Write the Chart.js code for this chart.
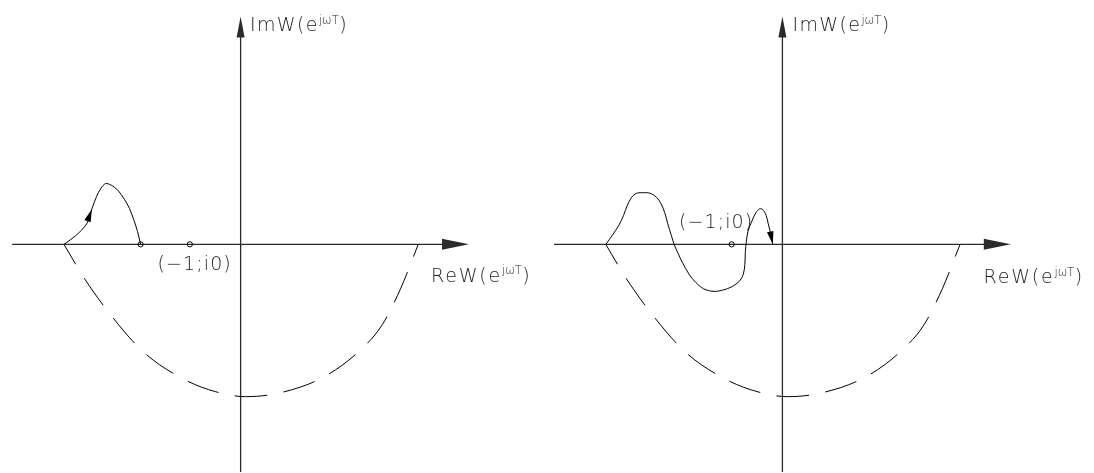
<!DOCTYPE html>
<html>
<head>
<meta charset="utf-8">
<script src="https://cdn.jsdelivr.net/npm/chart.js@4.4.1/dist/chart.umd.min.js"></script>
<style>
  html, body { margin: 0; padding: 0; background: #ffffff; }
  #wrap { display: flex; width: 1094px; height: 473px; overflow: hidden; }
  canvas { display: block; }
</style>
</head>
<body>
<div id="wrap">
  <canvas id="planeA" width="547" height="473"></canvas>
  <canvas id="planeB" width="547" height="473"></canvas>
</div>
<script>
// ---- data (complex-plane units, the critical point sits at Re = -1) ----
const reAxisRange = [-4.5, 4.5];
const imAxisRange = [-4.5, 4.5];
const criticalPoint = [{ x: -1, y: 0 }];

// dashed closing contour (frequencies mirrored into the lower half-plane)
const closingContour = [
  { x: -3.48, y: 0 }, { x: -3.08, y: -0.67 }, { x: -2.54, y: -1.42 }, { x: -1.90, y: -2.14 },
  { x: -1.11, y: -2.67 }, { x: -0.50, y: -2.91 }, { x: 0.10, y: -3.01 }, { x: 0.75, y: -2.94 },
  { x: 1.64, y: -2.62 }, { x: 2.38, y: -2.07 }, { x: 2.79, y: -1.59 }, { x: 3.15, y: -0.88 },
  { x: 3.50, y: 0 }
];

// frequency response, first system
const hodographA = [
  { x: -3.48, y: 0 }, { x: -3.25, y: 0.17 }, { x: -3.03, y: 0.41 }, { x: -2.93, y: 0.70 },
  { x: -2.84, y: 0.94 }, { x: -2.75, y: 1.11 }, { x: -2.66, y: 1.20 }, { x: -2.55, y: 1.17 },
  { x: -2.42, y: 1.07 }, { x: -2.29, y: 0.89 }, { x: -2.19, y: 0.71 }, { x: -2.10, y: 0.47 },
  { x: -2.03, y: 0.25 }, { x: -1.97, y: 0 }
];
const hodographAEnd = [{ x: -1.97, y: 0 }];

// frequency response, second system
const hodographB = [
  { x: -3.48, y: 0 }, { x: -3.35, y: 0.18 }, { x: -3.22, y: 0.38 }, { x: -3.13, y: 0.57 },
  { x: -3.06, y: 0.76 }, { x: -2.97, y: 0.93 }, { x: -2.87, y: 1.01 }, { x: -2.74, y: 1.02 },
  { x: -2.61, y: 1.01 }, { x: -2.48, y: 0.93 }, { x: -2.39, y: 0.80 }, { x: -2.32, y: 0.63 },
  { x: -2.26, y: 0.41 }, { x: -2.19, y: 0.18 }, { x: -2.13, y: -0.01 }, { x: -2.06, y: -0.17 },
  { x: -1.97, y: -0.36 }, { x: -1.84, y: -0.59 }, { x: -1.71, y: -0.75 }, { x: -1.55, y: -0.88 },
  { x: -1.35, y: -0.93 }, { x: -1.16, y: -0.90 }, { x: -1.00, y: -0.84 }, { x: -0.84, y: -0.72 },
  { x: -0.77, y: -0.59 }, { x: -0.74, y: -0.40 }, { x: -0.73, y: -0.14 }, { x: -0.71, y: 0.05 },
  { x: -0.68, y: 0.25 }, { x: -0.61, y: 0.44 }, { x: -0.52, y: 0.63 }, { x: -0.45, y: 0.70 },
  { x: -0.39, y: 0.69 }, { x: -0.32, y: 0.57 }, { x: -0.28, y: 0.41 }, { x: -0.24, y: 0.25 },
  { x: -0.19, y: 0 }
];

// ---- layout ----
const UNIT_PX = 51.7;          // pixels per unit on both axes
const PANE_W = 547, PANE_H = 473;
const ORIGIN_Y = 244.5;
const INK = '#000000';
const AXIS_INK = '#2a2a2a';
const TEXT_FONT = '"DejaVu Sans", "Liberation Sans", sans-serif';

function arrowHead(ctx, tip, from, len, half) {
  const dx = tip.x - from.x, dy = tip.y - from.y;
  const d = Math.hypot(dx, dy) || 1;
  const ux = dx / d, uy = dy / d;
  const bx = tip.x - ux * len, by = tip.y - uy * len;
  ctx.beginPath();
  ctx.moveTo(tip.x, tip.y);
  ctx.lineTo(bx - uy * half, by + ux * half);
  ctx.lineTo(bx + uy * half, by - ux * half);
  ctx.closePath();
  ctx.fill();
}

// Re / Im axes with arrowheads
const planeAxes = {
  id: 'planeAxes',
  beforeDatasetsDraw(chart) {
    const { ctx } = chart;
    const { x, y } = chart.scales;
    const x0 = x.getPixelForValue(0), y0 = y.getPixelForValue(0);
    const reTip = x.getPixelForValue(reAxisRange[1]);
    const imTip = y.getPixelForValue(imAxisRange[1]);
    ctx.save();
    ctx.strokeStyle = AXIS_INK;
    ctx.fillStyle = AXIS_INK;
    ctx.lineWidth = 1.3;
    ctx.beginPath();
    ctx.moveTo(x.getPixelForValue(reAxisRange[0]), y0);
    ctx.lineTo(reTip - 20, y0);
    ctx.moveTo(x0, imTip + 15);
    ctx.lineTo(x0, y.getPixelForValue(imAxisRange[0]));
    ctx.stroke();
    arrowHead(ctx, { x: reTip, y: y0 }, { x: x0, y: y0 }, 27, 5.5);
    arrowHead(ctx, { x: x0, y: imTip }, { x: x0, y: y0 }, 21, 4);
    ctx.restore();
  }
};

// direction arrows placed on the hodograph points
const flowArrows = {
  id: 'flowArrows',
  afterDatasetsDraw(chart, args, opts) {
    const { ctx } = chart;
    ctx.save();
    ctx.fillStyle = INK;
    for (const m of opts.marks || []) {
      const pts = chart.getDatasetMeta(m.dataset).data;
      const tip = pts[m.index];
      let from = pts[m.index - 1];
      if (tip.cp1x !== undefined && Math.hypot(tip.cp1x - tip.x, tip.cp1y - tip.y) > 0.5) {
        from = { x: tip.cp1x, y: tip.cp1y };
      }
      arrowHead(ctx, tip, from, m.length, m.half);
    }
    ctx.restore();
  }
};

// text labels anchored to plane coordinates
const planeLabels = {
  id: 'planeLabels',
  afterDraw(chart, args, opts) {
    const { ctx } = chart;
    const { x, y } = chart.scales;
    ctx.save();
    ctx.fillStyle = '#1e1e1e';
    ctx.textBaseline = 'alphabetic';
    ctx.textAlign = 'left';
    for (const lab of opts.items || []) {
      let px = x.getPixelForValue(lab.at[0]) + lab.dx;
      const py = y.getPixelForValue(lab.at[1]) + lab.dy;
      for (const part of lab.parts) {
        ctx.font = `${part.weight || 300} ${part.size}px ${TEXT_FONT}`;
        ctx.letterSpacing = (part.spacing || 0) + 'px';
        ctx.fillText(part.text, px, py + (part.rise || 0));
        px += ctx.measureText(part.text).width + (part.gap || 0);
      }
    }
    ctx.restore();
  }
};

function expParts(prefix, spacing) {
  return [
    { text: prefix + '(e', size: 19, spacing: spacing },
    { text: 'jωT', size: 11.5, spacing: 0, rise: -7.5, gap: 0.5 },
    { text: ')', size: 19, spacing: 0 }
  ];
}

function makePlane(canvasId, originX, response, arrowMarks, extraPoints, labelOffsets) {
  const xMin = -originX / UNIT_PX, xMax = (PANE_W - originX) / UNIT_PX;
  const yMax = ORIGIN_Y / UNIT_PX, yMin = -(PANE_H - ORIGIN_Y) / UNIT_PX;
  return new Chart(document.getElementById(canvasId), {
    type: 'line',
    data: {
      datasets: [
        {
          data: closingContour,
          borderColor: INK,
          borderWidth: 1,
          borderDash: [32.8, 16.5],
          borderDashOffset: 9.8,
          cubicInterpolationMode: 'monotone',
          pointRadius: 0,
          fill: false
        },
        {
          data: response,
          borderColor: INK,
          borderWidth: 1,
          tension: 0.32,
          pointRadius: 0,
          fill: false
        },
        {
          data: extraPoints,
          showLine: false,
          pointRadius: 2.6,
          pointBorderWidth: 1,
          pointBorderColor: INK,
          pointBackgroundColor: 'rgba(0,0,0,0)'
        }
      ]
    },
    options: {
      responsive: false,
      animation: false,
      devicePixelRatio: 1,
      layout: { padding: 0 },
      events: [],
      scales: {
        x: { type: 'linear', min: xMin, max: xMax, display: false },
        y: { type: 'linear', min: yMin, max: yMax, display: false }
      },
      plugins: {
        legend: { display: false },
        tooltip: { enabled: false },
        flowArrows: { marks: arrowMarks },
        planeLabels: {
          items: [
            { at: [0, imAxisRange[1]], dx: labelOffsets.im[0], dy: labelOffsets.im[1], parts: expParts('ImW', 1.4) },
            { at: [reAxisRange[1], 0], dx: labelOffsets.re[0], dy: labelOffsets.re[1], parts: expParts('ReW', 1.8) },
            { at: [criticalPoint[0].x, 0], dx: labelOffsets.crit[0], dy: labelOffsets.crit[1],
              parts: [{ text: '(−1;i0)', size: 19, spacing: 1.1 }] }
          ]
        }
      }
    },
    plugins: [planeAxes, flowArrows, planeLabels]
  });
}

makePlane('planeA', 240, hodographA,
  [{ dataset: 1, index: 3, length: 13, half: 3.3 }],
  criticalPoint.concat(hodographAEnd),
  { im: [9.3, 14.7], re: [-38, 37.2], crit: [-32.3, 25.5] });

makePlane('planeB', 234.7, hodographB,
  [{ dataset: 1, index: hodographB.length - 1, length: 13, half: 3.3 }],
  criticalPoint,
  { im: [10, 14.7], re: [-27.3, 38.8], crit: [-52.7, -16] });
</script>
</body>
</html>
